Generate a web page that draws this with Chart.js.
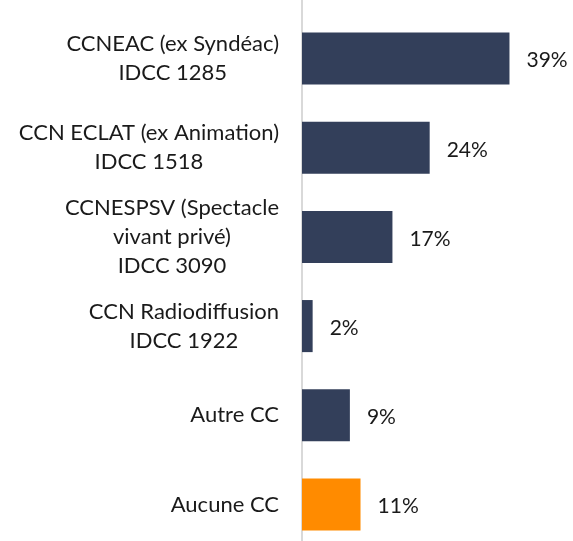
<!DOCTYPE html>
<html>
<head>
<meta charset="utf-8">
<script src="https://cdn.jsdelivr.net/npm/chart.js@4.4.0/dist/chart.umd.min.js"></script>
<style>
  html, body { margin: 0; padding: 0; background: #fff; overflow: hidden; }
  #wrap { width: 573px; height: 549px; }
</style>
</head>
<body>
<div id="wrap"><canvas id="chart"></canvas></div>
<script>
// data
const categories = [
  ['CCNEAC (ex Syndéac)', 'IDCC 1285'],
  ['CCN ECLAT (ex Animation)', 'IDCC 1518'],
  ['CCNESPSV (Spectacle', 'vivant privé)', 'IDCC 3090'],
  ['CCN Radiodiffusion', 'IDCC 1922'],
  ['Autre CC'],
  ['Aucune CC']
];
const shares = [39, 24, 17, 2, 9, 11];
const barColors = ['#333f5a', '#333f5a', '#333f5a', '#333f5a', '#333f5a', '#ff8b00'];

const FONT = 'Lato, "Open Sans", sans-serif';
const LABEL_SIZE = 22;
const VALUE_SIZE = 21;

// category labels: each block centred on itself, blocks right aligned
const catLabels = {
  id: 'catLabels',
  afterDraw(chart) {
    const ctx = chart.ctx;
    const y = chart.scales.y;
    const right = chart.chartArea.left - 23;
    const lh = 29;
    ctx.save();
    ctx.font = LABEL_SIZE + 'px ' + FONT;
    ctx.fillStyle = '#1a1a1a';
    ctx.textAlign = 'center';
    ctx.textBaseline = 'middle';
    categories.forEach((lines, i) => {
      const w = Math.max(...lines.map(l => ctx.measureText(l).width));
      const cx = right - w / 2;
      const cy = y.getPixelForValue(i);
      const top = cy - (lines.length - 1) * lh / 2;
      lines.forEach((l, k) => ctx.fillText(l, cx, top + k * lh));
    });
    ctx.restore();
  }
};

// value labels to the right of each bar
const valueLabels = {
  id: 'valueLabels',
  afterDatasetsDraw(chart) {
    const ctx = chart.ctx;
    const meta = chart.getDatasetMeta(0);
    ctx.save();
    ctx.font = VALUE_SIZE + 'px ' + FONT;
    ctx.fillStyle = '#1a1a1a';
    ctx.textAlign = 'left';
    ctx.textBaseline = 'middle';
    meta.data.forEach((bar, i) => {
      ctx.fillText(shares[i] + '%', bar.x + 17, bar.y + 2);
    });
    ctx.restore();
  }
};

// vertical axis line running the full height
const axisLine = {
  id: 'axisLine',
  beforeDatasetsDraw(chart) {
    const ctx = chart.ctx;
    const x = chart.chartArea.left;
    ctx.save();
    ctx.strokeStyle = '#d9d9d9';
    ctx.lineWidth = 2;
    ctx.beginPath();
    ctx.moveTo(x, 0);
    ctx.lineTo(x, chart.height);
    ctx.stroke();
    ctx.restore();
  }
};

new Chart(document.getElementById('chart'), {
  type: 'bar',
  data: {
    labels: categories.map(c => c.join(' ')),
    datasets: [{
      data: shares,
      backgroundColor: barColors,
      borderWidth: 0,
      barPercentage: 0.584,
      categoryPercentage: 1
    }]
  },
  options: {
    indexAxis: 'y',
    responsive: true,
    maintainAspectRatio: false,
    animation: false,
    layout: { padding: { top: 14, right: 5, bottom: 0, left: 0 } },
    plugins: { legend: { display: false }, tooltip: { enabled: false } },
    scales: {
      x: {
        display: false,
        min: 0,
        max: 50
      },
      y: {
        grid: { display: false, drawTicks: false },
        border: { display: false },
        ticks: { display: false },
        afterFit(s) { s.width = 302; }
      }
    }
  },
  plugins: [axisLine, catLabels, valueLabels]
});
</script>
</body>
</html>
